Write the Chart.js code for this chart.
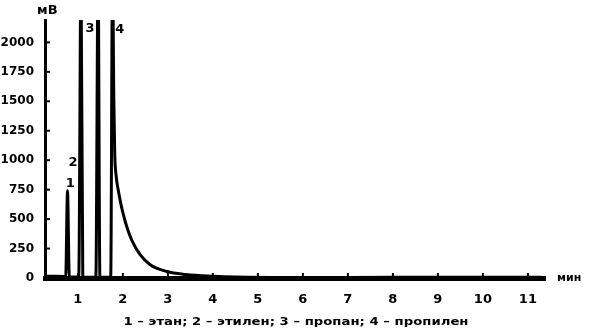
<!DOCTYPE html>
<html>
<head>
<meta charset="utf-8">
<script src="https://cdn.jsdelivr.net/npm/chart.js@4"></script>
<style>
  html, body { margin: 0; padding: 0; background: #fff; }
  #wrap { width: 589px; height: 335px; }
</style>
</head>
<body>
<div id="wrap"><canvas id="chrom" width="589" height="335"></canvas></div>
<script>
// время, мин и сигнал, мВ
const times = [0.27, 0.5, 0.7, 0.73, 0.77, 0.81, 0.9, 1.02, 1.07, 1.11, 1.2, 1.4, 1.45, 1.49, 1.6, 1.73, 1.77, 1.8, 1.82, 1.85, 1.9, 1.95, 2.0, 2.1, 2.2, 2.38, 2.6, 2.98, 3.4, 4.0, 4.5, 6.0, 8.0, 11.3];
const signal = [15, 15, 12, 10, 740, 10, 8, 8, 2600, 8, 6, 6, 2600, 6, 6, 6, 2600, 1500, 1050, 870, 740, 640, 555, 420, 320, 200, 115, 55, 30, 15, 8, 4, 6, 6];
const xTicks = [1, 2, 3, 4, 5, 6, 7, 8, 9, 10, 11];
const yTicks = [0, 250, 500, 750, 1000, 1250, 1500, 1750, 2000];
// подписи пиков
const peakNames = ['1', '2', '3', '4'];
const peakLabelT = [0.83, 0.89, 1.27, 1.93];
const peakLabelV = [800, 980, 2120, 2110];
const caption = '1 – этан; 2 – этилен; 3 – пропан; 4 – пропилен';

const font = 'bold 13px "DejaVu Sans", sans-serif';

const points = times.map((t, i) => ({ x: t, y: signal[i] }));

// подписи, засечки и надписи осей
const extras = {
  id: 'extras',
  afterDraw(chart) {
    const c = chart.ctx;
    const xs = chart.scales.x, ys = chart.scales.y;
    const area = chart.chartArea;
    c.save();
    c.fillStyle = '#000';
    c.strokeStyle = '#000';
    // засечки по Y (внутрь)
    c.lineWidth = 2;
    yTicks.forEach(v => {
      const py = ys.getPixelForValue(v);
      c.beginPath();
      c.moveTo(area.left, py);
      c.lineTo(area.left + 5, py);
      c.stroke();
    });
    // засечки по X
    xTicks.forEach(v => {
      const px = xs.getPixelForValue(v);
      c.beginPath();
      c.moveTo(px, area.bottom);
      c.lineTo(px, area.bottom - 5);
      c.stroke();
    });
    c.font = font;
    c.textAlign = 'center';
    c.textBaseline = 'middle';
    peakNames.forEach((n, i) => {
      c.fillText(n, xs.getPixelForValue(peakLabelT[i]), ys.getPixelForValue(peakLabelV[i]));
    });
    c.textAlign = 'left';
    c.fillText('мВ', area.left - 8, 11);
    c.font = 'bold 11px "DejaVu Sans", sans-serif';
    c.fillText('мин', area.right + 12, area.bottom);
    // подпись под графиком, растянута по ширине как в оригинале
    c.font = 'bold 11px "DejaVu Sans", sans-serif';
    const w = c.measureText(caption).width;
    c.translate(296, 322);
    c.scale(345 / w, 1);
    c.textAlign = 'center';
    c.fillText(caption, 0, 0);
    c.restore();
  }
};

const ctx = document.getElementById('chrom').getContext('2d');
const chart = new Chart(ctx, {
  type: 'line',
  data: {
    datasets: [{
      data: points,
      borderColor: '#000',
      borderWidth: 3,
      pointRadius: 0,
      cubicInterpolationMode: 'monotone',
      fill: false
    }]
  },
  options: {
    responsive: false,
    animation: false,
    layout: { padding: { top: 20, right: 44, left: 0, bottom: 0 } },
    plugins: { legend: { display: false }, tooltip: { enabled: false } },
    scales: {
      x: {
        type: 'linear',
        min: 0.27,
        max: 11.38,
        afterBuildTicks: s => { s.ticks = xTicks.map(v => ({ value: v })); },
        afterFit: s => { s.height = 57; },
        grid: { display: false },
        border: { display: true, color: '#000', width: 5 },
        ticks: { color: '#000', font: { family: 'DejaVu Sans', size: 13, weight: 'bold' }, padding: 6, callback: v => String(v) }
      },
      y: {
        min: 0,
        max: 2190,
        afterBuildTicks: s => { s.ticks = yTicks.map(v => ({ value: v })); },
        afterFit: s => { s.width = 45; },
        grid: { display: false },
        border: { display: true, color: '#000', width: 3 },
        ticks: { color: '#000', font: { family: 'DejaVu Sans', size: 12, weight: 'bold' }, padding: 3, callback: v => String(v) }
      }
    }
  },
  plugins: [extras]
});
</script>
</body>
</html>
